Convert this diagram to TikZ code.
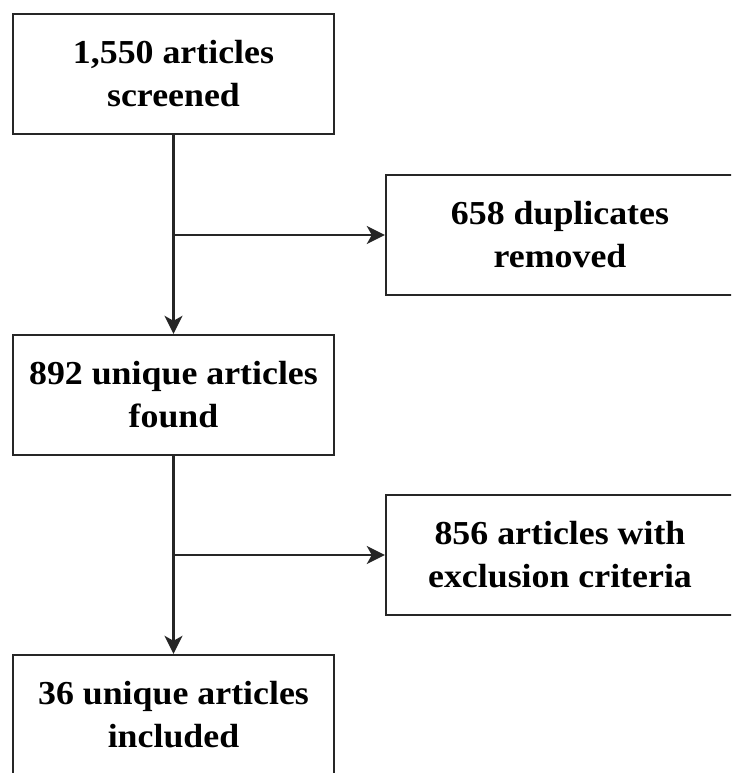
\documentclass[tikz,border=0pt]{standalone}
\usepackage{fontspec}
\newfontfamily\boxfont{Liberation Serif}[FakeStretch=1.07]
\usetikzlibrary{arrows.meta}
\tikzset{
  flowbox/.style={draw=black!85, line width=2.4pt, fill=white, align=center,
    font=\boxfont\bfseries\fontsize{33.5}{43}\selectfont,
    inner sep=0pt, anchor=center},
  leftbox/.style={flowbox, minimum width=321pt, minimum height=120pt},
  rightbox/.style={flowbox, minimum width=348pt, minimum height=120pt},
  link/.style={draw=black!85, line width=2.4pt},
  arrowlink/.style={link, -{Stealth[length=18pt,width=18pt,inset=5pt]}}
}
\begin{document}
\begin{tikzpicture}[x=1pt,y=-1pt]
\useasboundingbox (0,0) rectangle (731,773);
\clip (0,0) rectangle (731,773);
\node[leftbox] (b1) at (173.5,74) {1,550 articles\\screened};
\node[rightbox] (b2) at (560,235) {658 duplicates\\removed};
\node[leftbox] (b3) at (173.5,395) {892 unique articles\\found};
\node[rightbox] (b4) at (560,555) {856 articles with\\exclusion criteria};
\node[leftbox] (b5) at (173.5,715) {36 unique articles\\included};
\coordinate (j1) at (b1.south |- b2.west);
\coordinate (j2) at (b3.south |- b4.west);
\draw[arrowlink] (b1.south) -- (b3.north);
\draw[arrowlink] (j1) -- (b2.west);
\draw[arrowlink] (b3.south) -- (b5.north);
\draw[arrowlink] (j2) -- (b4.west);
\end{tikzpicture}
\end{document}
